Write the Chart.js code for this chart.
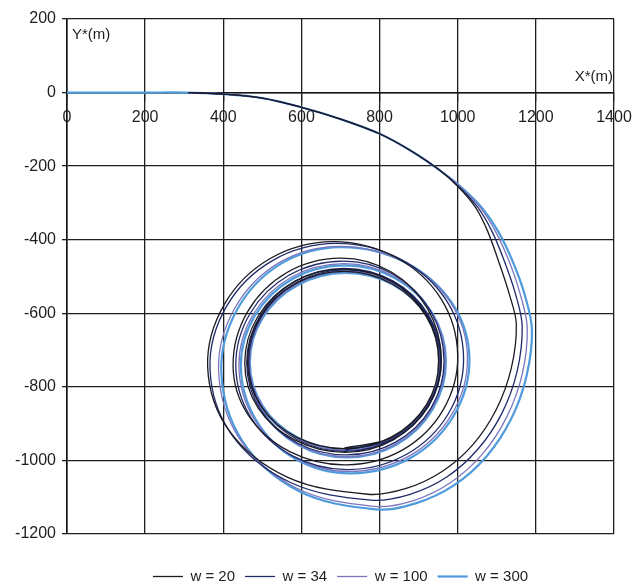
<!DOCTYPE html>
<html>
<head>
<meta charset="utf-8">
<script src="https://cdn.jsdelivr.net/npm/chart.js@4.4.1/dist/chart.umd.min.js"></script>
<style>
  html, body { margin: 0; padding: 0; background: #ffffff; }
  #wrap { width: 635px; height: 585px; }
</style>
</head>
<body>
<div id="wrap"><canvas id="c" width="635" height="585"></canvas></div>
<script>
// Axis ranges and tick spacing (metres)
const xRange = [0, 1400];
const yRange = [-1200, 200];
const tickStep = 200;

// Series labels and line colours
const seriesNames = ['w = 20', 'w = 34', 'w = 100', 'w = 300'];
const seriesColors = ['#1b1b24', '#1f2a6a', '#7a76bd', '#4f9bdc'];
const seriesWidths = [1.3, 1.3, 1.3, 2.2];

// Trajectory points [X*, Y*] for each series
const pathW20 = [
  [310,0],[400,-4],[500,-15],[600,-40],[700,-72],[800,-112],[880,-158],[950,-208],
  [1003,-258],[1046,-313],[1077,-378],[1105,-460],[1132,-548],[1150,-630],
  [1137,-750],[1099,-861],[1039,-957],[960,-1030],[868,-1076],[770,-1092],
  [565,-1046],[415,-919],[360,-745],
  [403,-575],[520,-451],[680,-405],[840,-447],[957,-560],[1000,-715],
  [962,-864],[858,-972],[715,-1012],[570,-976],[464,-877],[425,-742],
  [462,-596],[563,-489],[700,-450],[829,-487],[923,-588],[958,-725],
  [925,-852],[835,-944],[712,-978],[584,-945],[489,-857],[455,-735],
  [489,-608],[582,-514],[708,-480],[830,-513],[919,-604],[952,-728],
  [920,-848],[831,-936],[710,-968],[586,-936],[495,-850],[462,-732],
  [495,-609],[586,-519],[709,-486],[830,-519],[919,-608],[951,-729],
  [920,-850],[831,-938],[710,-966]
];
const pathW34 = [
  [310,0],[400,-4],[500,-15],[600,-40],[700,-72],[800,-112],[880,-158],[950,-208],
  [1005,-258],[1052,-313],[1088,-378],[1120,-460],[1148,-548],[1165,-635],
  [1152,-758],[1113,-872],[1052,-969],[972,-1045],[878,-1092],[778,-1108],
  [572,-1060],[421,-929],[366,-750],
  [409,-580],[527,-456],[688,-410],[852,-452],[971,-565],[1015,-720],
  [976,-873],[868,-984],[720,-1025],[576,-987],[471,-884],[432,-742],
  [469,-600],[569,-496],[705,-458],[835,-494],[930,-593],[965,-728],
  [932,-857],[840,-951],[715,-985],[588,-952],[494,-860],[460,-735],
  [494,-607],[585,-512],[710,-478],[834,-512],[925,-604],[958,-730],
  [925,-853],[835,-942],[712,-975],[589,-943],[498,-854],[465,-733],
  [498,-608],[588,-516],[711,-482],[834,-515],[923,-607],[956,-731],
  [923,-852],[834,-941],[712,-972]
];
const pathW100 = [
  [310,0],[400,-4],[500,-15],[600,-40],[700,-72],[800,-112],[880,-158],[950,-208],
  [1008,-258],[1058,-313],[1097,-378],[1132,-460],[1160,-548],[1178,-640],
  [1165,-766],[1125,-883],[1063,-983],[982,-1060],[887,-1109],[785,-1125],
  [587,-1075],[441,-940],[388,-755],
  [429,-587],[542,-463],[695,-418],[860,-459],[981,-570],[1025,-722],
  [984,-876],[874,-989],[722,-1030],[581,-991],[478,-886],[440,-742],
  [476,-604],[574,-502],[708,-465],[838,-500],[933,-597],[968,-728],
  [934,-859],[842,-955],[716,-990],[590,-956],[498,-863],[464,-735],
  [497,-610],[588,-519],[712,-485],[834,-518],[922,-608],[955,-730],
  [923,-851],[834,-940],[713,-972],[590,-940],[500,-853],[467,-733],
  [500,-610],[590,-520],[712,-487],[833,-520],[922,-609],[954,-731],
  [922,-852],[833,-940],[713,-971]
];
const pathW300 = [
  [0,0],[100,0],[200,0],[300,0],[400,-4],[500,-15],[600,-40],[700,-72],[800,-112],
  [880,-158],[950,-208],[1010,-258],[1062,-313],[1104,-378],[1141,-460],[1171,-548],
  [1190,-645],[1176,-771],[1136,-889],[1073,-990],[990,-1068],[894,-1116],[790,-1133],
  [593,-1083],[448,-946],[395,-758],
  [436,-589],[548,-465],[700,-420],[865,-461],[986,-573],[1030,-725],
  [989,-880],[878,-994],[725,-1035],[585,-996],[483,-889],[445,-742],
  [481,-606],[578,-506],[710,-470],[840,-505],[935,-600],[970,-730],
  [936,-861],[844,-957],[718,-992],[592,-958],[500,-864],[466,-735],
  [499,-612],[589,-521],[712,-488],[834,-521],[923,-610],[956,-732],
  [924,-851],[835,-938],[714,-970],[591,-938],[501,-852],[468,-734],
  [501,-612],[591,-523],[713,-490],[834,-522],[923,-611],[955,-732],
  [923,-852],[834,-939],[714,-969]
];

const paths = [pathW20, pathW34, pathW100, pathW300];
const FONT = '"Liberation Sans", Arial, sans-serif';
const INK = '#1e1e1e';

const datasets = paths.map((p, i) => ({
  label: seriesNames[i],
  data: p.map(([x, y]) => ({ x, y })),
  showLine: true,
  borderColor: seriesColors[i],
  backgroundColor: seriesColors[i],
  borderWidth: seriesWidths[i],
  pointRadius: 0,
  pointHoverRadius: 0,
  tension: 0.35,
  fill: false
}));

// Axis captions placed next to the origin / far end of the X axis
const axisCaptions = {
  id: 'axisCaptions',
  afterDraw(chart) {
    const { ctx, scales: { x, y } } = chart;
    ctx.save();
    ctx.fillStyle = INK;
    ctx.font = '15px ' + FONT;
    ctx.textBaseline = 'middle';
    ctx.textAlign = 'left';
    ctx.fillText('Y*(m)', x.getPixelForValue(0) + 5, y.getPixelForValue(157));
    ctx.textAlign = 'right';
    ctx.fillText('X*(m)', x.getPixelForValue(1400) - 1, y.getPixelForValue(42));
    ctx.restore();
  }
};

// Center the legend row under the plotting area rather than the whole canvas
const legendUnderPlot = {
  id: 'legendUnderPlot',
  afterLayout(chart) {
    const lg = chart.legend;
    const ca = chart.chartArea;
    if (!lg || !ca) return;
    lg.left = ca.left;
    lg.right = ca.right;
    lg.width = ca.right - ca.left;
  }
};

const plainNumber = (v) => String(v);

new Chart(document.getElementById('c'), {
  type: 'scatter',
  data: { datasets },
  plugins: [axisCaptions, legendUnderPlot],
  options: {
    responsive: false,
    devicePixelRatio: 1,
    animation: false,
    layout: { padding: { top: 19, right: 21, left: 0, bottom: -9 } },
    plugins: {
      tooltip: { enabled: false },
      legend: {
        position: 'bottom',
        title: {
          display: true,
          text: ' ',
          font: { size: 10 },
          padding: { top: 13, bottom: 0 }
        },
        labels: {
          usePointStyle: true,
          pointStyle: 'line',
          pointStyleWidth: 30,
          color: INK,
          padding: 10,
          font: { family: FONT, size: 15, lineHeight: 1 }
        }
      }
    },
    scales: {
      x: {
        type: 'linear',
        position: { y: 0 },
        min: xRange[0],
        max: xRange[1],
        ticks: {
          stepSize: tickStep,
          color: INK,
          padding: 7,
          maxRotation: 0,
          autoSkip: false,
          callback: plainNumber,
          font: { family: FONT, size: 16 }
        },
        grid: { color: '#1e1e1e', lineWidth: 1.3, tickLength: 8 },
        border: { color: '#151515', width: 1.6 },
        afterFit(scale) { scale.paddingRight = 4; scale.paddingLeft = 4; }
      },
      y: {
        type: 'linear',
        min: yRange[0],
        max: yRange[1],
        ticks: {
          stepSize: tickStep,
          color: INK,
          padding: 6,
          callback: plainNumber,
          font: { family: FONT, size: 16 }
        },
        grid: { color: '#1e1e1e', lineWidth: 1.3, tickLength: 5 },
        border: { color: '#151515', width: 1.6 },
        afterFit(scale) { scale.width = 67; }
      }
    }
  }
});
</script>
</body>
</html>
